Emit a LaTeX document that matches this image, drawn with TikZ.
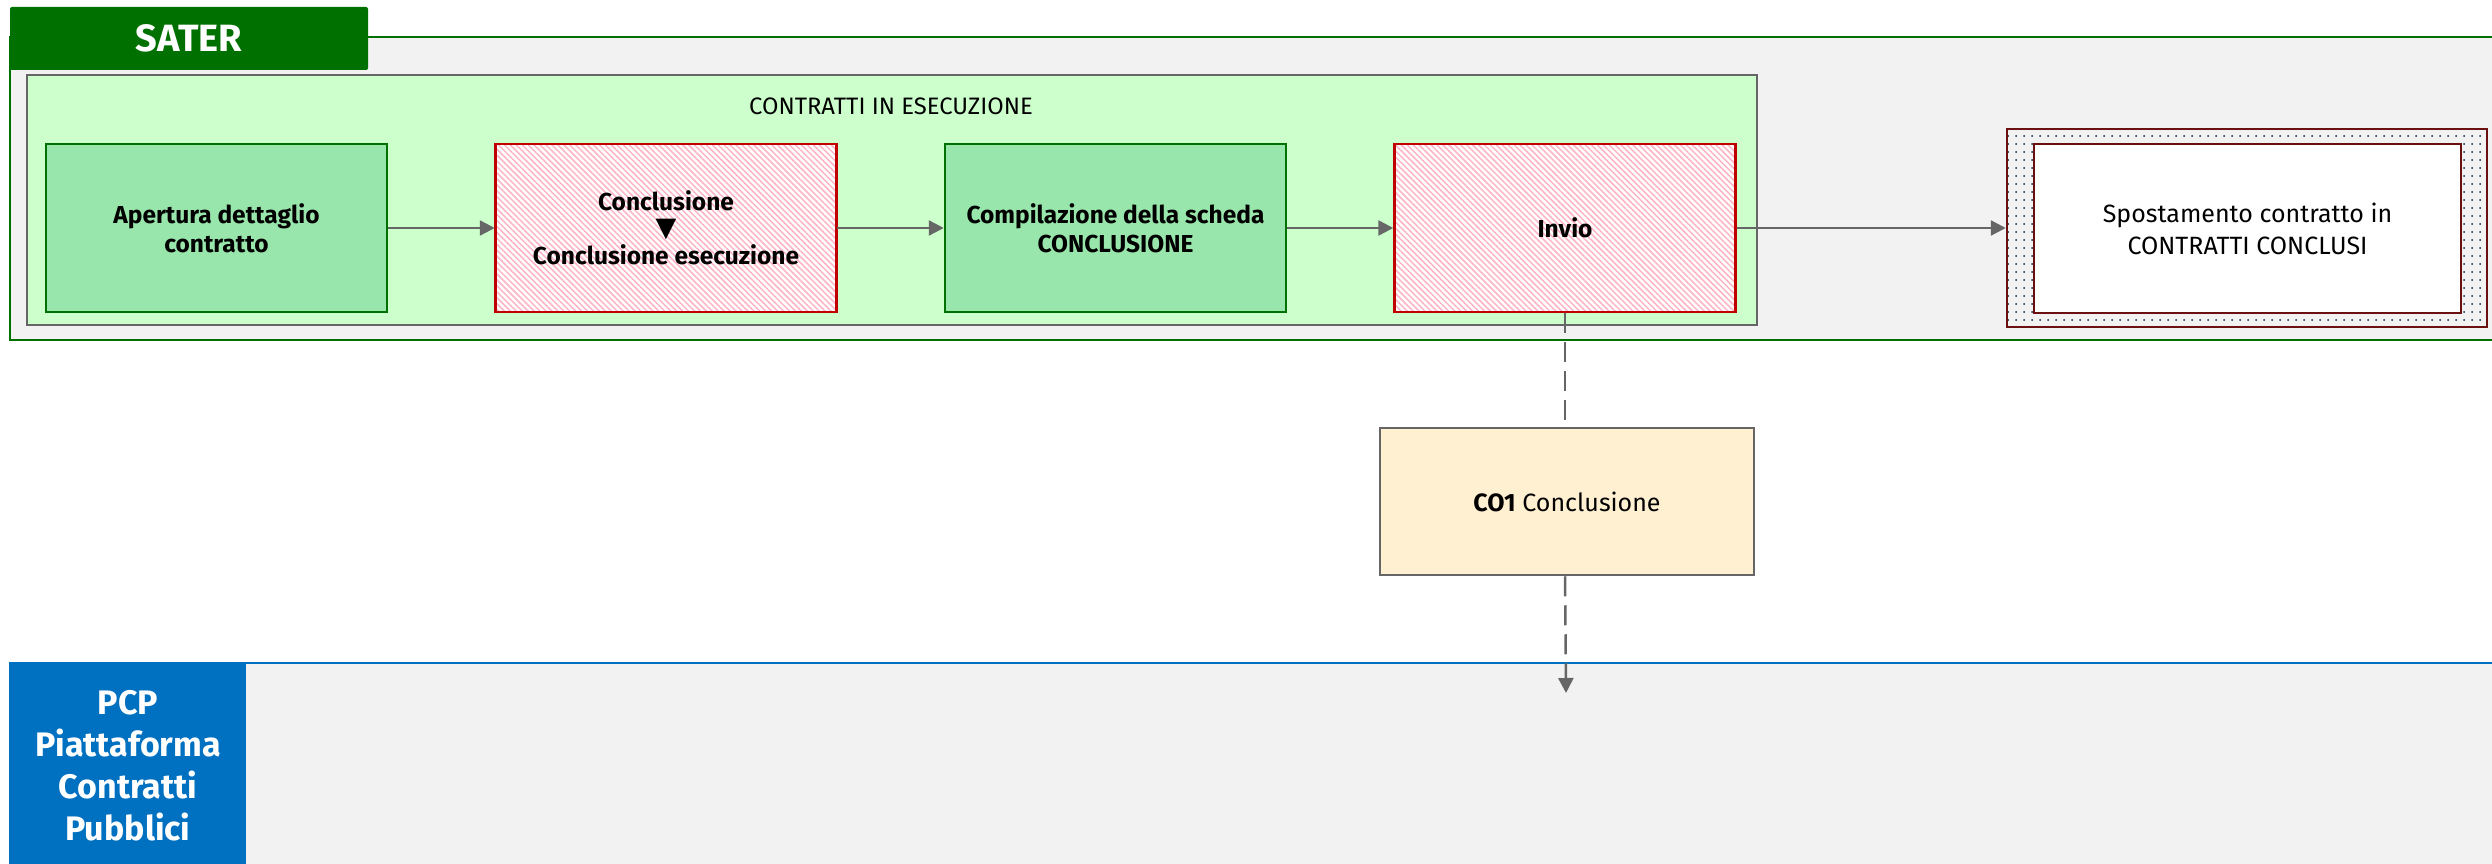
\documentclass[tikz,border=0pt]{standalone}
\usepackage{fontspec}
\setmainfont{Fira Sans}
\newfontfamily\symfont{DejaVu Sans}
\usetikzlibrary{patterns.meta,arrows.meta}
\definecolor{satergreen}{HTML}{007000}
\definecolor{lanegray}{HTML}{F2F2F2}
\definecolor{groupfill}{HTML}{CCFFCC}
\definecolor{stepgreen}{HTML}{98E6AC}
\definecolor{redborder}{HTML}{C00000}
\definecolor{hatchpink}{HTML}{FFB3C5}
\definecolor{darkred}{HTML}{6B1010}
\definecolor{dotblue}{HTML}{0B2545}
\definecolor{cofill}{HTML}{FFF0D2}
\definecolor{pcpblue}{HTML}{0070C0}
\definecolor{linegray}{HTML}{666666}
\begin{document}
\begin{tikzpicture}[x=1pt,y=-1pt,
  stepbase/.style={line width=2.5pt, minimum width=341pt, minimum height=168pt, align=center, inner sep=0pt,
    font=\fontsize{24.5}{29}\selectfont\bfseries},
  greenbox/.style={stepbase, draw=satergreen, fill=stepgreen},
  redbox/.style={stepbase, draw=redborder, preaction={fill=white},
    pattern={Lines[angle=-45,distance=4.2pt,line width=1.5pt]}, pattern color=hatchpink},
  arrowtip/.style={-{Triangle[length=15pt,width=15pt]}},
  flow/.style={draw=linegray, line width=2.5pt, arrowtip},
  dashflow/.style={draw=linegray, line width=2.5pt, dash pattern=on 20pt off 9pt},
  tabtext/.style={text=white, align=center, font=\fontsize{34}{42}\selectfont\bfseries},
  regtext/.style={font=\fontsize{25}{32}\selectfont, align=center}
]
\useasboundingbox (0,0) rectangle (2492,864);
\begin{scope}
\clip (0,0) rectangle (2492,864);
% SATER lane
\fill[lanegray] (10,37) rectangle (2520,340);
\draw[satergreen, line width=2.5pt] (2520,37) -- (10,37) -- (10,340) -- (2520,340);
\node[fill=satergreen, minimum width=358pt, minimum height=63pt, rounded corners=2pt, text=white,
  font=\fontsize{38}{42}\selectfont\bfseries] (sater) at (189,38.5) {SATER};
% group
\node[draw=linegray, line width=2.5pt, fill=groupfill, minimum width=1730pt, minimum height=250pt] (group) at (892,200) {};
\node[font=\fontsize{23.8}{26}\selectfont] (grouptitle) at (891,106) {CONTRATTI IN ESECUZIONE};
% steps
\node[greenbox] (b1) at (216.5,228) {Apertura dettaglio\\contratto};
\node[redbox] (b2) at (666,228) {Conclusione\\[-3pt]{\symfont\fontsize{27}{28}\selectfont ▼}\\[-1pt]Conclusione esecuzione};
\node[greenbox] (b3) at (1115.5,228) {Compilazione della scheda\\CONCLUSIONE};
\node[redbox] (b4) at (1565,228) {Invio};
% spostamento
\node[draw=darkred, line width=2.5pt, minimum width=480pt, minimum height=198pt, preaction={fill=lanegray},
  pattern={Dots[radius=1pt,distance=8pt]}, pattern color=dotblue] (spostout) at (2247,228) {};
\node[draw=darkred, line width=2.5pt, fill=white, minimum width=427pt, minimum height=169pt, regtext] (spost) at (2247.5,228.5) {Spostamento contratto in\\CONTRATTI CONCLUSI};
% PCP lane
\fill[lanegray] (246,663) rectangle (2520,880);
\draw[pcpblue, line width=2.5pt] (246,663) -- (2520,663);
\fill[pcpblue] (9,662) rectangle (246,880);
\node[tabtext] (pcp) at (128,766) {PCP\\Piattaforma\\Contratti\\Pubblici};
% CO1
\node[draw=linegray, line width=2.5pt, fill=cofill, minimum width=374pt, minimum height=147pt, regtext] (co1) at (1567,501.5) {\textbf{CO1} Conclusione};
\coordinate (pcpend) at (1566,693);
% connectors
\draw[flow] (b1.east) -- (b2.west);
\draw[flow] (b2.east) -- (b3.west);
\draw[flow] (b3.east) -- (b4.west);
\draw[flow] (b4.east) -- (spostout.west);
\draw[dashflow] (b4.south) -- (b4.south |- co1.north);
\draw[dashflow, arrowtip] (b4.south |- co1.south) -- (pcpend);
\end{scope}
\end{tikzpicture}
\end{document}
